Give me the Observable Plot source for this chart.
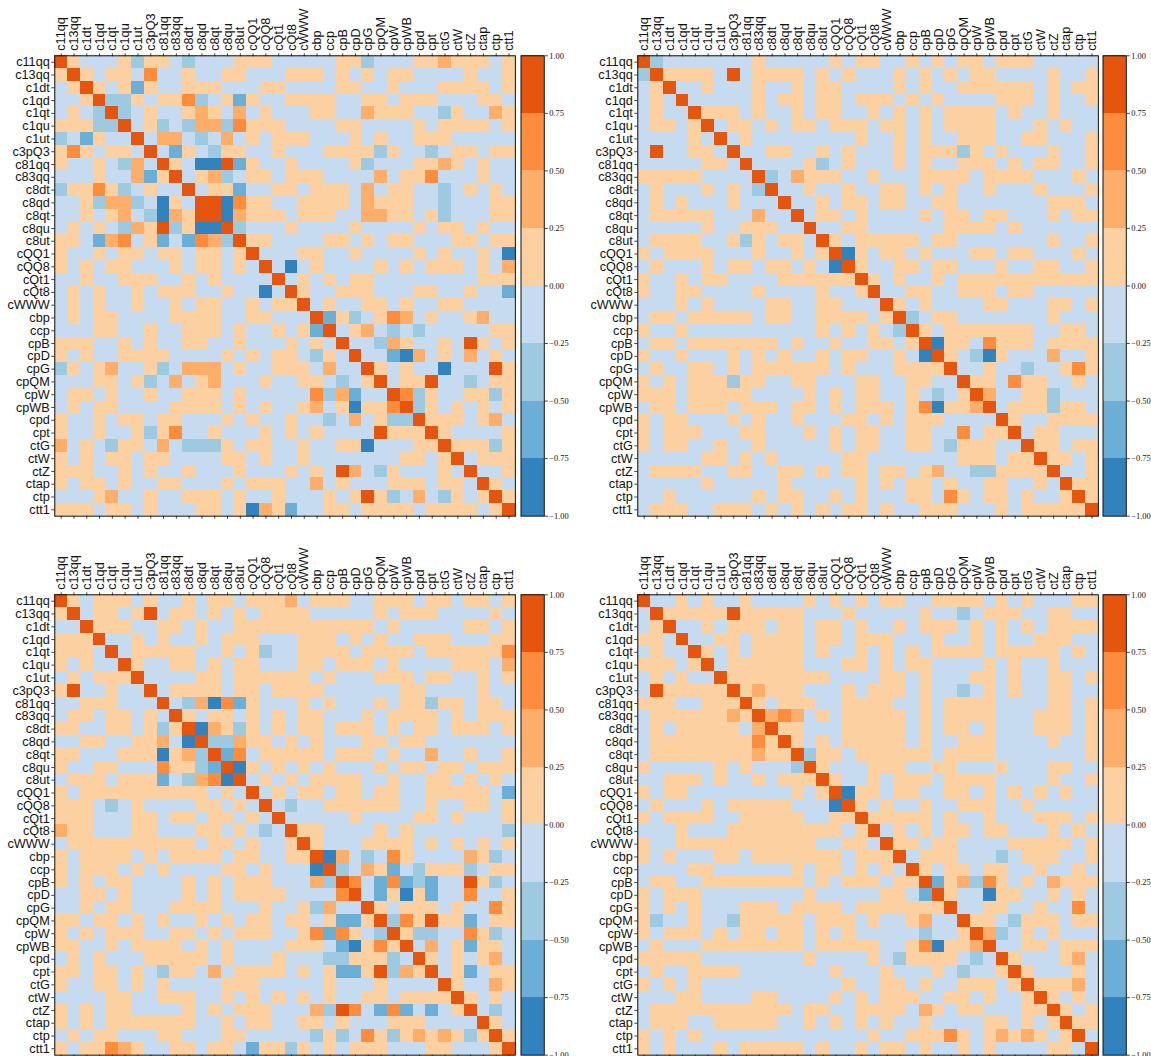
<!DOCTYPE html>
<html>
<head>
<meta charset="utf-8">
<script src="https://cdn.jsdelivr.net/npm/d3@7"></script>
<script src="https://cdn.jsdelivr.net/npm/@observablehq/plot@0.6"></script>
<style>
html,body{margin:0;padding:0;background:#fff;width:1151px;height:1056px;overflow:hidden}
#root{position:relative;width:1151px;height:1056px;overflow:hidden}
#root svg{position:absolute;background:none;overflow:visible}
</style>
</head>
<body>
<div id="root"></div>
<script>
const labels = ["c11qq","c13qq","c1dt","c1qd","c1qt","c1qu","c1ut","c3pQ3","c81qq","c83qq","c8dt","c8qd","c8qt","c8qu","c8ut","cQQ1","cQQ8","cQt1","cQt8","cWWW","cbp","ccp","cpB","cpD","cpG","cpQM","cpW","cpWB","cpd","cpt","ctG","ctW","ctZ","ctap","ctp","ctt1"];
// colour-bin thresholds and bin colours
const thresholds = [-0.75,-0.5,-0.25,0,0.25,0.5,0.75];
const binEdges = [-1,-0.75,-0.5,-0.25,0,0.25,0.5,0.75,1];
const binColors = ["#3182bd","#6baed6","#9ecae1","#c6dbef","#fdd0a2","#fdae6b","#fd8d3c","#e6550d"];
const binMid = [-0.875,-0.625,-0.375,-0.125,0.125,0.375,0.625,0.875];
const barTicks = [-1,-0.75,-0.5,-0.25,0,0.25,0.5,0.75,1];
// Symmetric correlation matrices, upper triangle per row (starting on the diagonal); digit = colour bin index
const topLeft = [
"7433342443 2333444333 3344233344 544434",
"743443633 4334433344 4343434433 334334",
"74341433 4443334433 3344334333 444434",
"7224344 6234143344 4433443444 333443",
"723433 4543534333 4433544433 243354",
"73423 2552644433 3344333343 444434",
"7355 3235343444 3334343344 433333",
"731 4324433433 3444424332 344344",
"74 3007143343 3334233344 543433",
"7 3452344344 4333353446 333433",
"7344133443 4443534433 234343",
"770644334 4443544433 233344",
"70544434 4433554434 233344",
"7233343 3334333343 443433",
"744333 3443434433 344344",
"73334 4334333343 433430",
"7303 4333343434 443435",
"734 3434433333 333444",
"74 3344433344 334331",
"7 3433443433 443333",
"7142346534 334533",
"734532323 333344",
"73325433 437434",
"7331053 435343",
"743433 033374",
"73447 332344",
"7624 334424",
"724 343434",
"74 443453",
"7 433334",
"744424","73444","7334","743","74","7"];
const topRight = [
"7233333334 3333343443 3434344344 433333",
"744443734 4443434333 4343434433 334334",
"73343334 3343443333 4343344444 434344",
"7333334 3443443444 3434333344 434334",
"744434 3343443343 4343444434 334333",
"73443 4344344434 4343444433 343433",
"7343 3333333433 4343344433 443334",
"733 4433434333 4344424343 334334",
"73 3334234333 4343344434 344334",
"7 2354443343 3344443444 433343",
"7334334334 4343433433 343334",
"733434434 4334433333 334443",
"73443433 3343443443 334344",
"7334433 3333444434 333333",
"743444 4434433333 334334",
"70434 4343334434 433343",
"7433 4434433343 344334",
"743 4334344444 444444",
"733443344434433333",
"74343333443334434",
"7234433333334333",
"743444444433443",
"70443644434444",
"7432043335334",
"733433233464",
"74436443343",
"7533442333",
"734442443",
"74334444",
"7344333",
"744344","74434","7334","744","74","7"];
const bottomLeft = [
"7434443433 4344344453 4443344434 434434",
"734434734 4343434444 3333343444 333343",
"74443344 3433444444 4444434333 334434",
"7334343 3434443334 4434343344 433344",
"734444 4334342334 4443444434 444446",
"74334 4343443334 4344434333 344435",
"7333 3443444444 3433344434 433434",
"734 4443443444 4333333443 333433",
"73 2506143334 3433343442 443443",
"7 4344343434 4333434444 343444",
"7054243434 4344434344 344434",
"722544343 4333443443 333333",
"71634444 4344434335 334334",
"7043434 3433343443 443444",
"734343 4444334334 434343",
"73434 4344344334 444431",
"7323 3444444334 334434",
"733 3334333344 343334",
"7443333434 33333332",
"7433344443 4343434",
"7053236433 335423",
"7235413244 42344",
"7631612133 7423",
"7314041336 334",
"743444343364",
"72647441344",
"7422336423",
"735341443",
"74343453",
"7341344",
"743354","74343","7323","743","74","7"];
const bottomRight = [
"7334343343 3334343434 4334444343 433344",
"744444744 4443334333 3343323444 334433",
"73343444 3443443433 4344434343 434444",
"7334434 4443443444 3334334343 344433",
"743434 4443433434 3434444344 444343",
"73444 4443334434 3443333434 334333",
"7444 4444433334 4343334434 334434",
"745 4443334344 4343323434 334433",
"74 3444334444 3343444433 334434",
"7 5653434444 4343444433 344434",
"7443334444 4343443433 344434",
"743434444 4343344433 334334",
"72443444 4443444433 333334",
"7433344 4334433343 334433",
"743343 4443444433 334334",
"70443 4433443434 343433",
"7434 3343344433 433333",
"744 4443433433 344434",
"7343434434 43334343",
"7443443333 4444434",
"7344433323 444334",
"7434434433 43343",
"7145264343 5444",
"7433044334 343",
"733443343363",
"74432444344",
"7523434333",
"733443444",
"74333453",
"7433343",
"744453","74343","7434","744","73","7"];

const panels = [
  {rows: topLeft, left: 0, top: 0},
  {rows: topRight, left: 582.8, top: 0},
  {rows: bottomLeft, left: 0, top: 539},
  {rows: bottomRight, left: 582.8, top: 539}
];

const root = document.getElementById("root");
const tickFont = {fontFamily: "'Liberation Sans', Arial, sans-serif", fontSize: 12.7};

function toCells(rows) {
  const tri = rows.map(r => r.replace(/ /g, ""));
  tri.forEach((r, i) => {
    if (r.length !== labels.length - i || r[0] !== "7") throw new Error("bad row " + i + " len " + r.length);
  });
  const out = [];
  labels.forEach((yl, i) => labels.forEach((xl, j) => {
    const a = Math.min(i, j), b = Math.max(i, j);
    out.push({x: xl, y: yl, v: binMid[+tri[a][b - a]]});
  }));
  return out;
}

const ML = 54.3, MT = 55.3, SIZE_W = 460.6, SIZE_H = 460.4;
for (const p of panels) {
  const heat = Plot.plot({
    width: ML + SIZE_W + 2, height: MT + SIZE_H + 6,
    marginLeft: ML, marginTop: MT, marginRight: 2, marginBottom: 6,
    style: {background: "none", ...tickFont, color: "#111"},
    x: {type: "band", domain: labels, padding: 0, round: false, axis: null},
    y: {type: "band", domain: labels, padding: 0, round: false, axis: null},
    color: {type: "threshold", domain: thresholds, range: binColors},
    marks: [
      Plot.cell(toCells(p.rows), {x: "x", y: "y", fill: "v", shapeRendering: "crispEdges"}),
      Plot.axisX({anchor: "top", ticks: labels, label: null, tickSize: 3, tickPadding: 2, tickRotate: -90, stroke: "#111", strokeWidth: 0.8, fill: "#111"}),
      Plot.axisX({anchor: "bottom", ticks: labels, label: null, tickSize: 3, tickFormat: () => "", stroke: "#111", strokeWidth: 0.8}),
      Plot.axisY({anchor: "left", ticks: labels, label: null, tickSize: 3, tickPadding: 2, stroke: "#111", strokeWidth: 0.8, fill: "#111"}),
      Plot.frame({stroke: "#111", strokeWidth: 1})
    ]
  });
  heat.style.left = p.left + "px";
  heat.style.top = p.top + "px";
  root.appendChild(heat);

  const bins = binColors.map((c, i) => ({lo: binEdges[i], hi: binEdges[i + 1], mid: binMid[i]}));
  const barLeft = 0.5;
  const bar = Plot.plot({
    width: barLeft + 23.3 + 40, height: MT + SIZE_H + 6,
    marginLeft: barLeft, marginRight: 40, marginTop: MT, marginBottom: 6,
    style: {background: "none", fontFamily: "'Liberation Serif', serif", fontSize: 8.4, color: "#111"},
    x: {domain: [0, 1], axis: null},
    y: {domain: [-1, 1], axis: null},
    color: {type: "threshold", domain: thresholds, range: binColors},
    marks: [
      Plot.rect(bins, {x1: () => 0, x2: () => 1, y1: "lo", y2: "hi", fill: "mid", shapeRendering: "crispEdges"}),
      Plot.axisY({anchor: "right", ticks: barTicks, label: null, tickSize: 3, tickPadding: 2, tickFormat: d => d3.format(".2f")(d).replace("-", "\u2212"), stroke: "#111", strokeWidth: 0.8, fill: "#111"}),
      Plot.frame({stroke: "#111", strokeWidth: 1})
    ]
  });
  bar.style.left = (p.left + 520 - barLeft) + "px";
  bar.style.top = p.top + "px";
  root.appendChild(bar);
}
</script>
</body>
</html>
